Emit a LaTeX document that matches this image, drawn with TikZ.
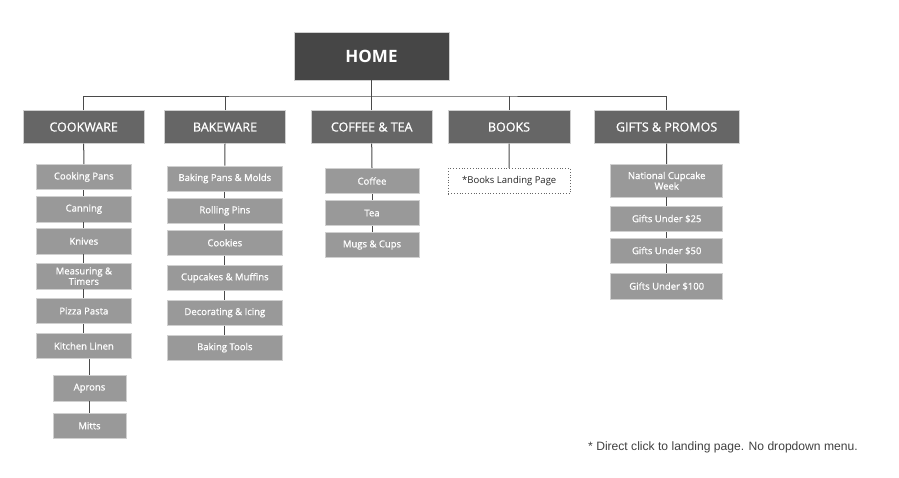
\documentclass[tikz,border=0pt]{standalone}
\usepackage{fontspec}
\setmainfont{Open Sans}
\newfontfamily\semib[FakeBold=0.9]{Open Sans}
\newfontfamily\notefont{Liberation Sans}
\definecolor{homegray}{HTML}{464646}
\definecolor{topgray}{HTML}{666666}
\definecolor{subgray}{HTML}{999999}
\definecolor{edgegray}{HTML}{D0D0D0}
\definecolor{linegray}{HTML}{4A4A4A}
\begin{document}
\begin{tikzpicture}[x=1pt,y=-1pt,
  homebox/.style={fill=homegray,draw=edgegray,line width=0.6pt,text=white,inner sep=0pt,
    minimum width=155pt,minimum height=48pt,font=\fontsize{17}{20}\selectfont\bfseries},
  topbox/.style={fill=topgray,draw=edgegray,line width=0.6pt,text=white,inner sep=0pt,
    minimum height=32.6pt,font=\semib\fontsize{12.5}{15}\selectfont},
  subbox/.style={fill=subgray,draw=edgegray,line width=0.6pt,text=white,inner sep=0pt,
    minimum height=25.4pt,align=center,font=\semib\fontsize{9.5}{10.5}\selectfont},
  landbox/.style={fill=white,draw=black!60,dash pattern=on 0.8pt off 2pt,line width=0.8pt,text=black!85,inner sep=0pt,
    minimum height=25.4pt,font=\fontsize{9.5}{11}\selectfont},
  conn/.style={draw=linegray,line width=1pt}]
\useasboundingbox (0,0) rectangle (899,477);
% home
\node[homebox] (home) at (371.5,56) {HOME};
% top level
\node[topbox,minimum width=121.3pt] (cook) at (83.7,127) {COOKWARE};
\node[topbox,minimum width=121.4pt] (bake) at (225,127) {BAKEWARE};
\node[topbox,minimum width=121.3pt] (coffee) at (371.7,127) {COFFEE \& TEA};
\node[topbox,minimum width=121.7pt] (books) at (509,127) {BOOKS};
\node[topbox,minimum width=145.6pt] (gifts) at (666.6,127) {GIFTS \& PROMOS};
% bus
\coordinate (bus) at (371.5,96);
\draw[conn] (home.south) -- (bus);
\draw[conn] (cook.north) |- (bus) -| (gifts.north);
\draw[conn] (bake.north) -- (bake.north |- bus);
\draw[conn] (coffee.north) -- (coffee.north |- bus);
\draw[conn] (books.north) -- (books.north |- bus);
% cookware
\begin{scope}[every node/.append style={subbox,minimum width=94.3pt}]
\node (cp) at (83.85,177) {Cooking Pans};
\node (can) at (83.85,209.2) {Canning};
\node (kn) at (83.85,241.2) {Knives};
\node[minimum height=25.7pt] (ms) at (83.85,276.2) {Measuring \&\\Timers};
\node (pp) at (83.85,311) {Pizza Pasta};
\node (kl) at (83.85,346) {Kitchen Linen};
\end{scope}
\node[subbox,minimum width=73pt] (ap) at (89.5,388.2) {Aprons};
\node[subbox,minimum width=73pt] (mi) at (89.5,425.8) {Mitts};
\draw[conn] (cook.south) -- (cp.north);
\draw[conn] (cp.south) -- (can.north);
\draw[conn] (can.south) -- (kn.north);
\draw[conn] (kn.south) -- (ms.north);
\draw[conn] (ms.south) -- (pp.north);
\draw[conn] (pp.south) -- (kl.north);
\draw[conn] (ap.north |- kl.south) -- (ap.north);
\draw[conn] (ap.south) -- (mi.north);
% bakeware
\begin{scope}[every node/.append style={subbox,minimum width=115.7pt}]
\node (bp) at (224.85,178.5) {Baking Pans \& Molds};
\node (rp) at (224.85,210.8) {Rolling Pins};
\node (co) at (224.85,242.7) {Cookies};
\node (cu) at (224.85,277.8) {Cupcakes \& Muffins};
\node (de) at (224.85,312.7) {Decorating \& Icing};
\node (bt) at (224.85,347.7) {Baking Tools};
\end{scope}
\draw[conn] (bake.south) -- (bp.north);
\draw[conn] (bp.south) -- (rp.north);
\draw[conn] (rp.south) -- (co.north);
\draw[conn] (co.south) -- (cu.north);
\draw[conn] (cu.south) -- (de.north);
\draw[conn] (de.south) -- (bt.north);
% coffee
\begin{scope}[every node/.append style={subbox,minimum width=94pt}]
\node (cf) at (372,181) {Coffee};
\node (te) at (372,213) {Tea};
\node (mu) at (372,245) {Mugs \& Cups};
\end{scope}
\draw[conn] (coffee.south) -- (cf.north);
\draw[conn] (cf.south) -- (te.north);
\draw[conn] (te.south) -- (mu.north);
% books
\node[landbox,minimum width=121.7pt] (bl) at (509.2,181) {*Books Landing Page};
\draw[conn] (books.south) -- (bl.north);
% gifts
\begin{scope}[every node/.append style={subbox,minimum width=112pt}]
\node[minimum height=32.7pt] (nc) at (666.7,180.7) {National Cupcake\\Week};
\node (g25) at (666.7,218.8) {Gifts Under \$25};
\node (g50) at (666.7,250.8) {Gifts Under \$50};
\node (g100) at (666.7,286.3) {Gifts Under \$100};
\end{scope}
\draw[conn] (gifts.south) -- (nc.north);
\draw[conn] (nc.south) -- (g25.north);
\draw[conn] (g25.south) -- (g50.north);
\draw[conn] (g50.south) -- (g100.north);
% footnote
\node[anchor=base west,inner sep=0pt,text=black!75,font=\notefont\fontsize{12.1}{14}\selectfont] (note) at (588,450) {* Direct click to landing page. No dropdown menu.};
\end{tikzpicture}
\end{document}
